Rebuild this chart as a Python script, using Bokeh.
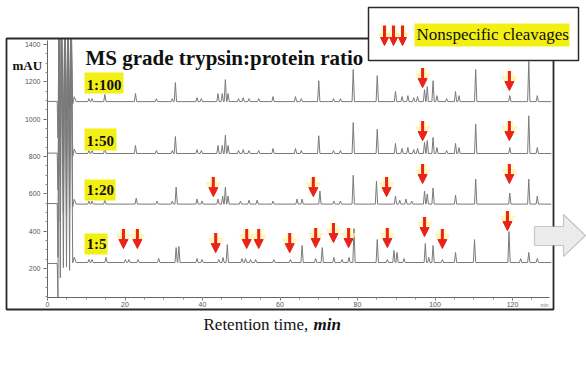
from bokeh.plotting import figure
from bokeh.models import (Range1d, SingleIntervalTicker, Label, BoxAnnotation, PolyAnnotation,
                          Arrow, NormalHead, ColumnDataSource)
from bokeh.embed import file_html
from bokeh.resources import INLINE

# ---------------- data ----------------
ratios = ["1:100", "1:50", "1:20", "1:5"]

# injection region (time in min, signal in mAU; off-scale spikes)
inj_t = [2.5, 2.7, 3.0, 3.3, 3.6, 4.1, 4.5, 4.9, 5.3, 5.7, 6.1, 6.5, 6.9, 7.4]
inj_100 = [1095, 900, 1600, 700, 1600, 950, 1600, 1000, 1600, 1050, 1600, 1080, 1120, 1094]
inj_50 = [818, 620, 1600, 700, 1600, 760, 1600, 780, 1600, 790, 1600, 800, 840, 816]
inj_20 = [548, 260, 1600, 450, 1600, 500, 1600, 480, 1600, 520, 1600, 530, 570, 545]
inj_5 = [227, 45, 1600, 150, 1600, 205, 1600, 210, 1600, 190, 1600, 230, 260, 232]

left_100, left_50, left_20, left_5 = 1095, 818, 548, 227
base_100, base_50, base_20, base_5 = 1094, 816, 545, 232

t100 = [10.7, 11.5, 14.8, 22.7, 28.1, 32.2, 33.0, 38.6, 39.7, 44.0, 45.1, 45.9, 46.6, 49.3,
        50.5, 52.0, 54.5, 58.2, 64.0, 65.5, 70.0, 73.8, 75.6, 78.9, 85.1, 89.8, 91.5, 93.0,
        94.5, 95.5, 97.3, 98.0, 99.5, 100.5, 103.0, 105.3, 106.2, 110.5, 119.3, 124.2, 126.4]
h100 = [16, 16, 38, 43, 16, 16, 102, 21, 16, 43, 43, 118, 43, 16, 21, 16, 16, 27, 27, 16,
        112, 16, 16, 172, 139, 54, 27, 32, 21, 27, 64, 80, 112, 32, 16, 54, 32, 172, 32, 215, 32]

t50 = t100
h50 = [16, 16, 38, 43, 16, 16, 91, 21, 16, 43, 43, 98, 43, 16, 21, 16, 16, 27, 27, 16,
       95, 16, 16, 166, 130, 54, 27, 32, 21, 27, 60, 70, 86, 32, 16, 54, 32, 157, 32, 202, 32]

t20 = [10.7, 11.5, 14.8, 22.9, 28.3, 32.2, 33.2, 38.6, 39.9, 44.0, 45.2, 45.9, 46.6, 49.8,
       52.0, 54.1, 58.2, 64.4, 65.7, 70.3, 73.9, 75.6, 78.9, 84.9, 89.8, 90.9, 92.5, 94.0,
       97.3, 98.0, 99.5, 105.3, 110.5, 119.3, 124.2, 126.4]
h20 = [16, 16, 21, 32, 16, 16, 91, 27, 16, 27, 43, 91, 43, 16, 21, 21, 16, 27, 27, 70,
       16, 16, 155, 123, 43, 21, 27, 16, 70, 54, 86, 48, 134, 59, 134, 43]

t5 = [10.7, 11.5, 15.1, 20.1, 21.0, 23.4, 28.7, 33.2, 33.9, 38.6, 39.9, 44.2, 45.3, 46.4,
      50.2, 51.1, 52.4, 53.7, 58.4, 62.7, 65.7, 69.2, 70.9, 73.9, 76.0, 77.8, 79.1, 85.1,
      87.7, 89.4, 90.2, 92.0, 97.5, 98.4, 99.5, 101.9, 105.3, 110.2, 119.1, 122.1, 124.2, 126.4]
h5 = [16, 16, 27, 16, 16, 16, 21, 80, 86, 21, 16, 16, 27, 96, 21, 21, 16, 16, 16, 16,
      91, 21, 80, 27, 16, 27, 182, 123, 16, 64, 54, 21, 102, 27, 91, 16, 54, 123, 166, 21, 54, 21]

# nonspecific-cleavage arrows: time and tip level (mAU)
a100_t = [96.8, 119.2]
a100_tip = [1169, 1153]
a50_t = [96.8, 119.2]
a50_tip = [885, 885]
a20_t = [42.8, 68.6, 87.5, 96.8, 119.2]
a20_tip = [585, 585, 585, 655, 655]
a5_t = [19.6, 23.2, 43.4, 51.4, 54.5, 62.5, 69.2, 73.8, 77.7, 87.7, 97.3, 101.9, 118.7]
a5_tip = [307, 307, 285, 307, 307, 285, 312, 339, 312, 312, 371, 307, 403]

x_axis_span = (0, 129.5)     # min
y_axis_span = (44.5, 1421)   # mAU
x_ticks_interval = 20
y_ticks_interval = 200

# ---------------- figure ----------------
W, H = 586, 350
PX_PER_MIN = 3.875
PX_PER_MAU = 0.18667
X0_PX, Y0_PX = 47.0, 305.33   # canvas position of t=0 and of 0 mAU
SERIF = "Liberation Serif"

p = figure(width=W, height=H, output_backend="svg", toolbar_location=None,
           x_range=Range1d(-X0_PX / PX_PER_MIN, (W - X0_PX) / PX_PER_MIN),
           y_range=Range1d((Y0_PX - H) / PX_PER_MAU, Y0_PX / PX_PER_MAU),
           min_border=0, min_border_left=0, min_border_right=0,
           min_border_top=0, min_border_bottom=0)
p.outline_line_color = None
p.grid.visible = False

p.xaxis.fixed_location = y_axis_span[0]
p.yaxis.fixed_location = x_axis_span[0]
p.xaxis.bounds = x_axis_span
p.yaxis.bounds = y_axis_span
for ax, iv in ((p.xaxis, x_ticks_interval), (p.yaxis, y_ticks_interval)):
    ax.ticker = SingleIntervalTicker(interval=iv, num_minor_ticks=4)
    ax.axis_line_color = "#666666"
    ax.major_tick_line_color = "#666666"
    ax.minor_tick_line_color = "#888888"
    ax.major_tick_in = 0
    ax.minor_tick_in = 0
    ax.major_label_text_font = "Liberation Sans"
    ax.major_label_text_font_size = "7px"
    ax.major_label_text_color = "#555555"
p.xaxis.major_tick_out = 3
p.xaxis.minor_tick_out = 2
p.xaxis.major_label_standoff = 1
p.yaxis.major_tick_out = 4
p.yaxis.minor_tick_out = 2
p.yaxis.major_label_standoff = 3


def build(left, inj_v, base, pt, ph, w=0.3, t_end=130.0):
    xs = [0.0] + list(inj_t)
    ys = [left] + list(inj_v)
    for t, h in sorted(zip(pt, ph)):
        xs += [t - w, t, t + w]
        ys += [base, base + h, base]
    xs.append(t_end)
    ys.append(base)
    return xs, ys


traces = [
    (left_100, inj_100, base_100, t100, h100),
    (left_50, inj_50, base_50, t50, h50),
    (left_20, inj_20, base_20, t20, h20),
    (left_5, inj_5, base_5, t5, h5),
]
for tr in traces:
    xs, ys = build(*tr)
    p.line(xs, ys, line_color="#7a7a7a", line_width=1, line_join="bevel")


# ---------------- overlays in canvas pixels ----------------
def cbox(l, r, t, b, fill=None, line="#333333", lw=1.5):
    p.add_layout(BoxAnnotation(left=l, right=r, top=t, bottom=b,
                               left_units="canvas", right_units="canvas",
                               top_units="canvas", bottom_units="canvas",
                               fill_color=fill if fill else "white", fill_alpha=1.0 if fill else 0,
                               line_color=line if line else "white", line_width=lw,
                               line_alpha=1.0 if line else 0))


def clabel(x, y, text, size, bold=False, italic=False, color="#111111", font=SERIF):
    # y is the wanted alphabetic baseline in canvas pixels
    style = "bold italic" if bold and italic else "bold" if bold else "italic" if italic else "normal"
    p.add_layout(Label(x=x, y=y - 0.3 * size, x_units="canvas", y_units="canvas", text=text,
                       text_font=font, text_font_size=f"{size}px", text_font_style=style,
                       text_color=color, text_baseline="alphabetic", text_align="left"))


# hide the off-scale solvent spikes above the plot area, then outer frame
cbox(40, 560, 0, 38.5, fill="white", line=None)
cbox(6, 553, 38, 309, fill=None, line="#2a2a2a", lw=1.8)

# red arrows in data units
ARROW_LEN = 105
all_t = a100_t + a50_t + a20_t + a5_t
all_tip = a100_tip + a50_tip + a20_tip + a5_tip
src = ColumnDataSource(dict(x=all_t, y0=[v + ARROW_LEN for v in all_tip], y1=all_tip))
p.add_layout(Arrow(end=NormalHead(size=14, fill_color="#fff2a0", line_color="#fff2a0",
                                  fill_alpha=0.7, line_alpha=0.7),
                   x_start="x", y_start="y0", x_end="x", y_end="y1", source=src,
                   line_color="#fff2a0", line_width=7, line_alpha=0.7))
p.add_layout(Arrow(end=NormalHead(size=9, fill_color="#e8231c", line_color="#e8231c", line_width=1),
                   x_start="x", y_start="y0", x_end="x", y_end="y1", source=src,
                   line_color="#e8231c", line_width=3))

# title and unit
clabel(85, 64, "MS grade trypsin:protein ratio", 21, bold=True)
clabel(12, 69, "mAU", 13, bold=True)

# ratio tags
YEL = "#f2ef12"
tags = [(84, 123, 72, 93, 89), (84, 116, 128, 150, 145), (84, 115, 179, 200, 194), (84, 107, 233, 254, 248)]
for (l, r, t, b, bl), txt in zip(tags, ratios):
    cbox(l, r, t, b, fill=YEL, line=None)
    clabel(86, bl, txt, 15, bold=True)

# legend box
cbox(368, 578, 7, 60, fill="white", line="#2a2a2a", lw=1.5)
cbox(414, 569, 23, 46, fill=YEL, line=None)
clabel(416, 39, "Nonspecific cleavages", 17)
for lx in (384, 393, 402):
    p.add_layout(Arrow(end=NormalHead(size=12, fill_color="#fff2a0", line_color="#fff2a0",
                                      fill_alpha=0.7, line_alpha=0.7),
                       x_start=lx, y_start=25, x_end=lx, y_end=45,
                       start_units="canvas", end_units="canvas",
                       line_color="#fff2a0", line_width=6, line_alpha=0.7))
for lx in (384, 393, 402):
    p.add_layout(Arrow(end=NormalHead(size=8, fill_color="#e8231c", line_color="#e8231c"),
                       x_start=lx, y_start=25, x_end=lx, y_end=45,
                       start_units="canvas", end_units="canvas",
                       line_color="#e8231c", line_width=3))

# grey block arrow
p.add_layout(PolyAnnotation(xs=[534, 563, 563, 585, 563, 563, 534],
                            ys=[226, 226, 214, 235, 256, 245, 245],
                            xs_units="canvas", ys_units="canvas",
                            fill_color="#ececec", fill_alpha=1.0,
                            line_color="#555555", line_width=1.2))

# axis caption
clabel(203, 329, "Retention time, ", 17)
clabel(313, 329, "min", 17, bold=True, italic=True)
clabel(540, 306, "min", 5, color="#777777", font="Liberation Sans")

open("out.html", "w").write(file_html(p, INLINE))
